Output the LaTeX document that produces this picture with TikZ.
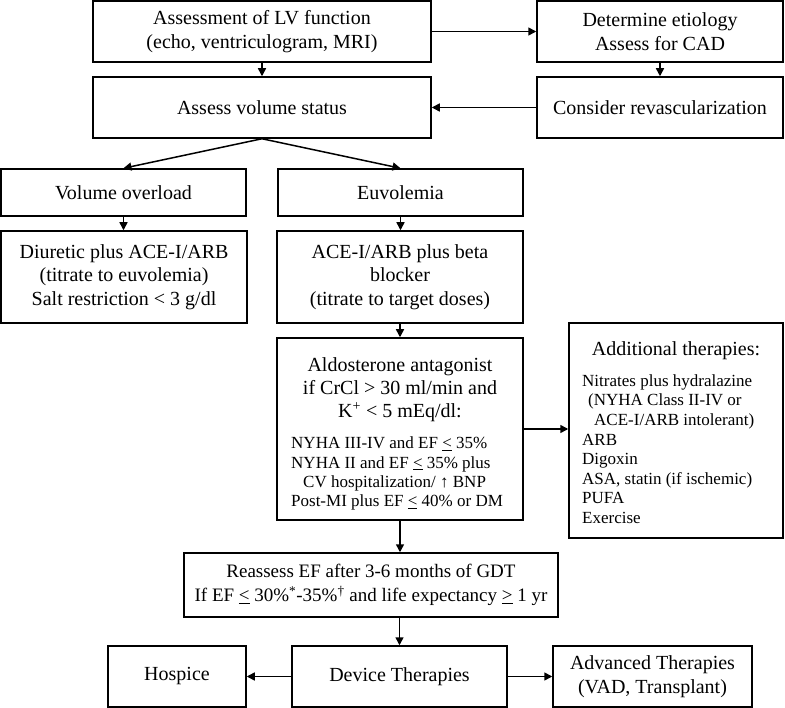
\documentclass[tikz,border=0pt]{standalone}
\usepackage{fontspec}
\setmainfont{Liberation Serif}
\usetikzlibrary{arrows.meta}
\tikzset{
  box/.style={draw, line width=1.5pt, inner sep=0pt, align=center,
    font=\fontsize{20}{23.5}\selectfont},
  txt/.style={inner sep=0pt},
  arr/.style={line width=1.5pt, -{Triangle[length=8pt,width=8pt]}}
}
\newcommand{\ule}{\underline{<}}
\newcommand{\uge}{\underline{>}}
\begin{document}
\begin{tikzpicture}[x=1pt,y=-1pt]
\useasboundingbox (0,0) rectangle (785,708);
% top row
\node[box, minimum width=338pt, minimum height=61pt] (A) at (262,31.5)
  {Assessment of LV function\\(echo, ventriculogram, MRI)};
\node[box, minimum width=246pt, minimum height=61pt] (D) at (660,31.5)
  {Determine etiology\\Assess for CAD};
\node[box, minimum width=338pt, minimum height=61pt] (B) at (262,107.5)
  {Assess volume status};
\node[box, minimum width=246pt, minimum height=61pt] (E) at (660,107.5)
  {Consider revascularization};
% volume
\node[box, minimum width=245pt, minimum height=47pt] (VO) at (123.5,192.5)
  {Volume overload};
\node[box, minimum width=245pt, minimum height=47pt] (EU) at (400.5,192.5)
  {Euvolemia};
\node[box, minimum width=246pt, minimum height=92pt] (DI) at (124,277)
  {Diuretic plus ACE-I/ARB\\(titrate to euvolemia)\\Salt restriction < 3 g/dl};
\node[box, minimum width=246pt, minimum height=92pt] (AC) at (400,277)
  {ACE-I/ARB plus beta\\blocker\\(titrate to target doses)};
% aldosterone
\node[box, minimum width=246pt, minimum height=182pt] (AL) at (400,429) {};
\node[txt, font=\fontsize{20}{23}\selectfont] (ALt) at (400,390)
  {\begin{tabular}{@{}c@{}}Aldosterone antagonist\\if CrCl > 30 ml/min and\\K\textsuperscript{+} < 5 mEq/dl:\end{tabular}};
\node[txt, anchor=west, font=\fontsize{17}{19.4}\selectfont] (ALl) at (291,474)
  {\begin{tabular}{@{}l@{}}NYHA III-IV and EF \ule{} 35\%\\
   NYHA II and EF \ule{} 35\% plus\\
   \hspace{12pt}CV hospitalization/ ↑ BNP\\
   Post-MI plus EF \ule{} 40\% or DM\end{tabular}};
% additional
\node[box, minimum width=214pt, minimum height=215pt] (AD) at (676,430.5) {};
\node[txt, font=\fontsize{20}{23}\selectfont] (ADt) at (676,351) {Additional therapies:};
\node[txt, anchor=west, font=\fontsize{17}{19.6}\selectfont] (ADl) at (582,451)
  {\begin{tabular}{@{}l@{}}Nitrates plus hydralazine\\
   \hspace{6pt}(NYHA Class II-IV or\\
   \hspace{12pt}ACE-I/ARB intolerant)\\
   ARB\\Digoxin\\ASA, statin (if ischemic)\\PUFA\\Exercise\end{tabular}};
% reassess
\node[box, minimum width=374pt, minimum height=64pt, font=\fontsize{19}{24}\selectfont] (RE) at (371,585)
  {Reassess EF after 3-6 months of GDT\\If EF \ule{} 30\%\textsuperscript{*}-35\%\textsuperscript{†} and life expectancy \uge{} 1 yr};
% bottom row
\node[box, minimum width=138pt, minimum height=61pt] (HO) at (177,676.5) {Hospice};
\node[box, minimum width=215pt, minimum height=61pt] (DV) at (399.5,676.5) {Device Therapies};
\node[box, minimum width=199pt, minimum height=61pt] (AV) at (652.5,676.5)
  {Advanced Therapies\\(VAD, Transplant)};
% connectors
\draw[arr] (A.east) -- (D.west);
\draw[arr] (A.south) -- (B.north);
\draw[arr] (D.south) -- (E.north);
\draw[arr] (E.west) -- (B.east);
\draw[arr] (B.south) -- (VO.north);
\draw[arr] (B.south) -- (EU.north);
\draw[arr] (VO.south) -- (VO.south |- DI.north);
\draw[arr] (EU.south) -- (EU.south |- AC.north);
\draw[arr] (AC.south) -- (AL.north);
\draw[arr] (AL.east) -- (AL.east -| AD.west);
\draw[arr] (AL.south) -- (AL.south |- RE.north);
\draw[arr] (DV.north |- RE.south) -- (DV.north);
\draw[arr] (DV.west) -- (HO.east);
\draw[arr] (DV.east) -- (AV.west);
\end{tikzpicture}
\end{document}
